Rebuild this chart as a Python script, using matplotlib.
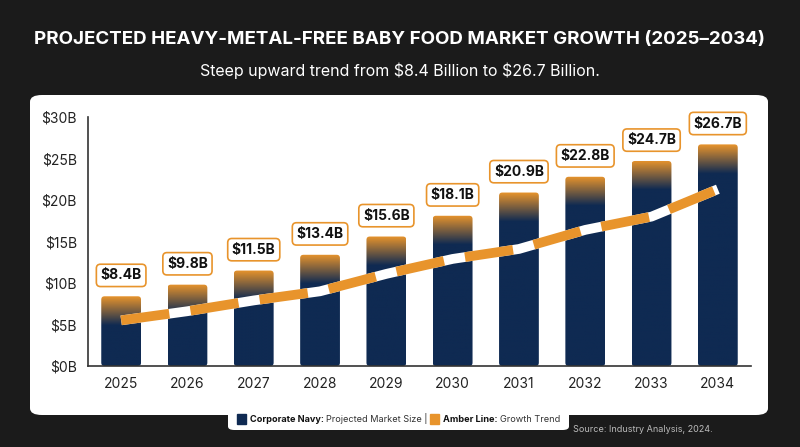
import numpy as np
import matplotlib.pyplot as plt
from matplotlib.patches import FancyBboxPatch
from matplotlib.colors import LinearSegmentedColormap

years = ['2025', '2026', '2027', '2028', '2029', '2030', '2031', '2032', '2033', '2034']
market = [8.4, 9.8, 11.5, 13.4, 15.6, 18.1, 20.9, 22.8, 24.7, 26.7]
labels = ['$8.4B', '$9.8B', '$11.5B', '$13.4B', '$15.6B', '$18.1B', '$20.9B', '$22.8B', '$24.7B', '$26.7B']
trend = [5.5, 6.6, 7.9, 9.0, 11.1, 12.9, 14.1, 16.4, 18.0, 21.3]
yticks = [0, 5, 10, 15, 20, 25, 30]

navy = '#0f2a52'
amber = '#e8942c'
plt.rcParams['font.family'] = ['Inter', 'DejaVu Sans']
plt.rcParams['text.parse_math'] = False

fig = plt.figure(figsize=(8, 4.47), dpi=100)
fig.patch.set_facecolor('#1b1b1b')

panel = FancyBboxPatch((30/800, 1-415/447), 738/800, 320/447, boxstyle='round,pad=0,rounding_size=0.015',
                       transform=fig.transFigure, facecolor='white', edgecolor='none', zorder=0)
fig.patches.append(panel)

fig.text(0.5, 1-40/447, 'PROJECTED HEAVY-METAL-FREE BABY FOOD MARKET GROWTH (2025–2034)',
         ha='center', va='center', color='white', fontsize=13.5, fontweight='bold')
fig.text(0.5, 1-71/447, 'Steep upward trend from $8.4 Billion to $26.7 Billion.',
         ha='center', va='center', color='white', fontsize=11.5)

ax = fig.add_axes([88/800, 1-366/447, 663/800, 249/447])
ax.set_zorder(2)
ax.set_facecolor('none')
x = np.arange(len(years))
bars = ax.bar(x, market, width=0.6, color='none', zorder=2)
grad = np.linspace(0, 1, 256).reshape(-1, 1)
for b, v in zip(bars, market):
    x0 = b.get_x()
    w = b.get_width()
    fb = FancyBboxPatch((x0, 0), w, v, boxstyle='round,pad=0,rounding_size=0.05', mutation_aspect=8,
                        facecolor='none', edgecolor='none')
    ax.add_patch(fb)
    # navy until ~3.5B below top, then fade to amber
    frac = max(0, 1 - 3.5 / v)
    cm = LinearSegmentedColormap.from_list('g', [(0, navy), (frac, navy), (1, amber)])
    im = ax.imshow(grad, extent=(x0, x0 + w, 0, v), origin='lower', aspect='auto', cmap=cm, zorder=2)
    im.set_clip_path(fb)

ax.plot(x, trend, color='white', lw=7, solid_capstyle='butt', zorder=3)
ax.plot(x, trend, color=amber, lw=7, dashes=(5, 2.2), solid_capstyle='butt', zorder=4)

for xi, v, lab in zip(x, market, labels):
    ax.annotate(lab, (xi, v), xytext=(0, 10), textcoords='offset points', ha='center', va='bottom',
                fontsize=10, fontweight='bold', color='#111111', zorder=5,
                bbox=dict(boxstyle='round,pad=0.3', fc='white', ec=amber, lw=1.2))

ax.set_xlim(-0.5, len(years) - 0.5)
ax.set_ylim(0, 30)
ax.set_yticks(yticks)
ax.set_yticklabels([f'${t}B' for t in yticks], fontsize=10, color='#222222')
ax.set_xticks(x)
ax.set_xticklabels(years, fontsize=10, color='#222222')
ax.tick_params(length=0, pad=8)
for s in ['top', 'right']:
    ax.spines[s].set_visible(False)
for s in ['left', 'bottom']:
    ax.spines[s].set_color('#333333')
    ax.spines[s].set_linewidth(1.2)

# legend strip
fy = 1 - 419/447
r = fig.canvas.get_renderer()
parts = [('sq', navy), ('Corporate Navy:', 'bold'), ('Projected Market Size |', 'normal'),
         ('sq', amber), ('Amber Line:', 'bold'), ('Growth Trend', 'normal')]
px = 237
for txt, st in parts:
    if txt == 'sq':
        fig.patches.append(plt.Rectangle((px/800, fy - 0.012), 0.011, 0.024, transform=fig.transFigure, color=st, zorder=6))
        px += 13
    else:
        t = fig.text(px/800, fy, txt, fontsize=6.6, fontweight=st, va='center', zorder=7,
                     color='#111111' if st == 'bold' else '#333333')
        px += t.get_window_extent(r).width + 2.5
leg = FancyBboxPatch((228/800, 1-430/447), (px + 6 - 228)/800, 22/447, boxstyle='round,pad=0,rounding_size=0.008',
                     transform=fig.transFigure, facecolor='white', edgecolor='none', zorder=5)
fig.patches.append(leg)

fig.text(713/800, 1-430/447, 'Source: Industry Analysis, 2024.', fontsize=6.5, color='#bbbbbb', ha='right', va='center')

fig.savefig('out.png', dpi=100, facecolor=fig.get_facecolor())
